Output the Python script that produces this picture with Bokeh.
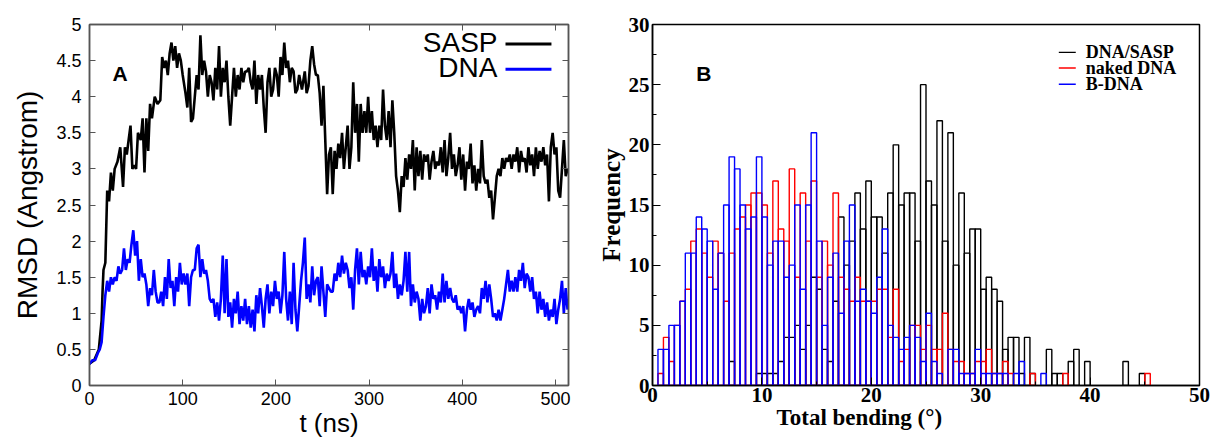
from bokeh.plotting import figure
from bokeh.models import (Range1d, LinearAxis, Label, FixedTicker, NumeralTickFormatter,
                          CustomJSTickFormatter, Title)
from bokeh.layouts import row
from bokeh.embed import file_html
from bokeh.resources import INLINE

# ---------------- Panel A data: RMSD vs time ----------------
sasp_t = ([0, 5, 10, 13, 14, 15, 17, 19, 21, 23, 25, 27, 30, 33, 36, 38, 40, 42, 44, 46, 48, 50,
           52, 55, 57, 59, 61, 63, 65, 67, 70, 73, 76, 78]
          + list(range(80, 101, 2)) + list(range(103, 224, 2)) + [225, 228, 231]
          + list(range(233, 514, 2)))
sasp_rmsd = [0.3, 0.35, 0.5, 0.9, 1.3, 1.6, 1.7, 2.7, 2.55, 2.95, 2.7, 3.0, 3.1, 3.3, 2.75, 3.3, 3.2,
             3.4, 3.6, 3.0, 3.05, 3.0, 3.5, 3.4, 3.7, 2.95, 3.7, 3.25, 3.9, 3.7, 4.0, 3.9, 3.95, 4.55,
             4.4, 4.5, 4.3, 4.6, 4.75, 4.5, 4.7, 4.4, 4.6, 4.5, 4.3,
             4.05, 3.85, 4.4, 3.65, 3.7, 4.0, 4.3, 4.1, 4.85, 4.3, 4.5, 4.35, 4.0, 4.3, 4.2, 3.95,
             4.4, 4.1, 4.7, 4.0, 4.4, 4.2, 4.5, 4.0, 3.6, 4.0, 4.4, 4.0, 4.3, 4.1, 4.4, 4.2, 4.35,
             4.35, 4.4, 4.2, 4.1, 4.5, 3.9, 4.3, 4.1, 4.3, 3.85, 3.5, 4.2, 4.4, 4.0, 4.1, 4.4, 4.3,
             4.0, 4.55, 4.3, 4.75, 4.4, 4.5, 4.2, 4.4, 4.35, 4.05, 4.1,
             4.3, 4.1, 4.35,
             4.05, 4.15, 4.5, 4.7, 4.45, 4.3, 4.3, 4.05, 3.6, 4.15, 3.4, 2.65, 3.2, 3.3, 2.65, 3.25,
             3.0, 3.35, 3.15, 3.5, 3.0, 3.3, 3.6, 3.0, 3.3, 4.2, 3.5, 3.9, 3.1, 3.9, 3.5, 3.8, 3.5,
             4.0, 3.5, 3.8, 3.4, 3.6, 3.3, 3.6, 3.4, 4.1, 3.6, 3.4, 3.8, 3.3, 3.95, 3.5, 2.9, 2.7,
             2.4, 2.9, 2.75, 3.15, 2.85, 3.2, 3.0, 3.4, 2.7, 3.3, 2.9, 3.25, 2.85, 3.2, 3.1, 3.2,
             2.85, 3.1, 3.25, 3.0, 3.1, 3.05, 3.3, 2.95, 3.4, 2.9, 3.15, 3.5, 3.0, 3.2, 2.9, 3.05,
             3.3, 2.85, 3.2, 2.7, 3.1, 3.0, 3.35, 2.8, 3.05, 2.7, 3.0, 2.8, 3.4, 2.9, 2.8, 2.85,
             2.6, 2.7, 2.3, 2.6, 2.9, 3.0, 2.9, 3.15, 3.0, 3.15, 3.1, 3.2, 3.0, 3.2, 3.1, 3.3, 2.95,
             3.25, 3.1, 3.15, 2.95, 3.3, 3.05, 3.2, 2.9, 3.3, 3.0, 3.25, 3.1, 3.3, 3.05, 3.2, 2.55,
             3.3, 3.5, 3.2, 3.3, 2.7, 2.6, 3.0, 3.4, 2.9, 3.0]

dna_t = [0, 3, 6, 9] + list(range(11, 514, 2))
dna_rmsd = [0.3, 0.35, 0.35, 0.45,
            0.5, 0.6, 0.95, 1.25, 1.45, 1.3, 1.5, 1.4, 1.5, 1.45, 1.65, 1.55, 1.6, 1.9, 1.6, 1.75,
            1.7, 1.95, 2.15, 1.8, 2.0, 1.45, 1.75, 1.5, 1.55, 1.4, 1.1, 1.35, 1.25, 1.6, 1.3, 1.15,
            1.15, 1.3, 1.1, 1.5, 1.2, 1.75, 1.35, 1.45, 1.1, 1.5, 1.3, 1.7, 1.4, 1.55, 1.4, 1.55,
            1.1, 1.5, 1.6,
            1.6, 1.9, 1.95, 1.5, 1.75, 1.55, 1.6, 1.45, 1.2,
            1.15, 1.2, 0.95, 1.15, 0.9, 1.2, 1.8, 1.0, 1.75, 0.95, 1.15, 0.8, 1.2, 1.0, 1.3, 0.85,
            1.1, 0.9, 1.2, 0.85, 1.1, 0.8, 1.05, 0.75, 1.25, 1.0, 1.35, 1.1, 0.8, 1.2, 1.4, 1.0,
            1.3, 1.1, 1.45, 1.2, 1.3, 1.0, 1.25, 1.85, 1.2, 0.9, 1.3, 0.85, 1.7, 1.05, 0.75,
            1.1, 1.45, 1.7, 2.05, 1.2, 1.4, 1.15, 1.65, 1.25, 1.45, 1.5, 1.1, 1.65, 1.3, 0.95, 1.4,
            1.35, 1.3, 1.3, 1.55, 1.45, 1.7, 1.5, 1.8, 1.55, 1.7, 1.6, 1.35, 1.5, 1.05, 1.6, 1.9,
            1.4, 1.85, 1.5, 1.6, 1.4, 1.65, 1.5, 1.9, 1.45, 1.65, 1.3, 1.75, 1.5, 1.65, 1.35, 1.55,
            1.45, 1.55, 1.85, 1.35, 1.55, 1.2, 1.4, 1.25, 1.45, 1.85, 1.3, 1.85, 1.1, 1.4, 1.15,
            1.3, 1.2, 0.9, 1.2, 1.0, 1.1, 1.35, 1.0, 1.4, 1.2, 1.25, 1.05, 1.3, 1.15, 1.55, 1.15,
            1.45, 1.2, 1.35, 1.2, 1.15, 1.25, 1.05, 1.1, 1.0, 1.1, 0.75, 1.05, 1.2, 1.05, 1.15,
            0.95, 1.05, 1.1, 1.0, 1.35, 1.2, 1.45, 1.15, 1.4, 1.2, 0.95, 1.0, 0.9, 1.05, 0.9, 1.05,
            1.2, 1.4, 1.6, 1.3, 1.45, 1.3, 1.5, 1.3, 1.6, 1.45, 1.7, 1.35, 1.55, 1.5, 1.3, 1.5,
            1.2, 1.3, 1.0, 1.3, 1.05, 1.2, 0.95, 1.15, 0.9, 1.05, 0.95, 1.2, 0.85, 1.05, 1.2, 1.45,
            1.0, 1.35, 1.05]

# ---------------- Panel B data: bending histograms ----------------
bin_start = 0.0
bin_width = 0.5
dna_sasp_freq = [0] * 14 + [2, 0, 0, 0, 0, 1, 1, 1, 1, 2, 4, 4, 5, 3, 5, 9, 8, 3, 2, 7, 14, 10, 12,
                            16, 13, 17, 14, 14, 11, 16, 20, 15, 16, 16, 12, 25, 17, 15, 22, 12, 21,
                            10, 16, 11, 13, 13, 8, 9, 8, 7, 3, 4, 4, 1, 4, 1, 0, 0, 3, 1, 1, 0, 2,
                            3, 0, 2, 0, 0, 0, 0, 0, 0, 2, 0, 0, 1, 0]
naked_dna_freq = [0, 1, 4, 2, 5, 7, 8, 12, 13, 11, 9, 12, 11, 7, 11, 13, 14, 15, 16, 16, 15, 11, 17,
                  13, 12, 18, 9, 16, 12, 17, 9, 12, 10, 16, 9, 8, 7, 9, 7, 7, 7, 8, 8, 4, 8, 2, 3, 5,
                  5, 3, 5, 3, 3, 6, 3, 2, 2, 1, 1, 2, 2, 3, 1, 1, 2, 1, 0, 0, 0, 1, 0, 0, 0, 0, 0, 1,
                  0, 0, 0, 0, 0, 0, 0, 0, 0, 0, 0, 0, 0, 0, 1]
b_dna_freq = [0, 3, 3, 5, 5, 7, 11, 11, 14, 13, 12, 8, 11, 15, 19, 18, 15, 13, 14, 19, 14, 10, 12, 12,
              9, 10, 15, 8, 15, 21, 12, 5, 9, 11, 6, 12, 15, 7, 8, 7, 6, 9, 13, 5, 4, 3, 4, 5, 4, 2,
              6, 2, 1, 0, 3, 3, 1, 1, 1, 3, 1, 1, 1, 1, 1, 0, 1, 2, 0, 0, 0, 1]

assert len(sasp_t) == len(sasp_rmsd), (len(sasp_t), len(sasp_rmsd))
assert len(dna_t) == len(dna_rmsd), (len(dna_t), len(dna_rmsd))

SANS = "Liberation Sans"
SERIF = "Liberation Serif"
BLUE = "#0000ff"
RED = "#ff0000"
FRAME = "#555555"

# ======================= Panel A =======================
pA = figure(width=594, height=440, x_range=Range1d(0, 514), y_range=Range1d(0, 5),
            output_backend="svg", toolbar_location=None,
            min_border_left=89, min_border_right=26, min_border_top=24, min_border_bottom=54)
pA.xgrid.visible = False
pA.ygrid.visible = False
pA.outline_line_color = FRAME
pA.outline_line_width = 1.5

pA.line(sasp_t, sasp_rmsd, line_color="black", line_width=2.6)
pA.line(dna_t, dna_rmsd, line_color=BLUE, line_width=2.6)

xt_A = [0, 100, 200, 300, 400, 500]
yt_A = [0, 0.5, 1, 1.5, 2, 2.5, 3, 3.5, 4, 4.5, 5]
pA.xaxis.ticker = FixedTicker(ticks=xt_A)
pA.yaxis.ticker = FixedTicker(ticks=yt_A)
pA.yaxis.formatter = NumeralTickFormatter(format="0.[0]")
for ax in (pA.xaxis[0], pA.yaxis[0]):
    ax.axis_line_color = FRAME
    ax.axis_line_width = 1.5
    ax.major_tick_line_color = FRAME
    ax.major_tick_in = 6
    ax.major_tick_out = 0
    ax.minor_tick_line_color = None
    ax.major_label_text_font = SANS
    ax.major_label_text_font_size = "18px"
    ax.major_label_text_color = "black"
    ax.axis_label_text_color = "black"
    ax.axis_label_text_font = SANS
    ax.axis_label_text_font_style = "normal"
pA.yaxis.major_label_standoff = 8
pA.xaxis.major_label_standoff = 6
pA.yaxis.axis_label = "RMSD (Angstrom)"
pA.yaxis.axis_label_text_font_size = "28px"
pA.yaxis.axis_label_standoff = 10
pA.xaxis.axis_label = "t (ns)"
pA.xaxis.axis_label_text_font_size = "26px"
pA.xaxis.axis_label_standoff = 0

blank = CustomJSTickFormatter(code="return ''")
rA = LinearAxis(ticker=FixedTicker(ticks=yt_A), formatter=blank, major_tick_in=6, major_tick_out=0,
                minor_tick_line_color=None, axis_line_color=FRAME, axis_line_width=1.5,
                major_tick_line_color=FRAME, major_label_standoff=0)
pA.add_layout(rA, "right")
tA = LinearAxis(ticker=FixedTicker(ticks=xt_A), formatter=blank, major_tick_in=6, major_tick_out=0,
                minor_tick_line_color=None, axis_line_color=FRAME, axis_line_width=1.5,
                major_tick_line_color=FRAME, major_label_standoff=0)
pA.add_layout(tA, "above")

pA.add_layout(Label(x=24.7, y=4.32, text="A", text_align="left", text_baseline="middle",
                    text_font=SANS, text_font_size="21px", text_font_style="bold",
                    text_color="black"))
# legend (text then line sample, as in the original)
pA.add_layout(Label(x=437.8, y=4.75, text="SASP", text_align="right", text_baseline="middle",
                    text_font=SANS, text_font_size="28px", text_color="black"))
pA.add_layout(Label(x=437.8, y=4.41, text="DNA", text_align="right", text_baseline="middle",
                    text_font=SANS, text_font_size="28px", text_color="black"))
pA.line([446.4, 495.7], [4.73, 4.73], line_color="black", line_width=3)
pA.line([446.4, 495.7], [4.38, 4.38], line_color=BLUE, line_width=3)

# ======================= Panel B =======================
pB = figure(width=618, height=440, x_range=Range1d(0, 50), y_range=Range1d(0, 30),
            output_backend="svg", toolbar_location=None,
            min_border_left=57, min_border_right=13, min_border_top=24, min_border_bottom=48)
pB.xgrid.visible = False
pB.ygrid.visible = False
pB.outline_line_color = "black"
pB.outline_line_width = 1.5


def bars(counts):
    idx = [i for i, c in enumerate(counts) if c > 0]
    left = [bin_start + i * bin_width for i in idx]
    right = [bin_start + (i + 1) * bin_width for i in idx]
    top = [counts[i] for i in idx]
    return left, right, top


for counts, col in ((dna_sasp_freq, "black"), (naked_dna_freq, RED), (b_dna_freq, BLUE)):
    l, r, t = bars(counts)
    pB.quad(left=l, right=r, bottom=0, top=t, fill_color=None, line_color=col, line_width=1.4)

pB.xaxis.ticker = FixedTicker(ticks=[0, 10, 20, 30, 40, 50], minor_ticks=[5, 15, 25, 35, 45])
pB.yaxis.ticker = FixedTicker(ticks=[0, 5, 10, 15, 20, 25, 30],
                              minor_ticks=[2.5, 7.5, 12.5, 17.5, 22.5, 27.5])
for ax in (pB.xaxis[0], pB.yaxis[0]):
    ax.axis_line_color = "black"
    ax.axis_line_width = 1.5
    ax.major_tick_line_color = "black"
    ax.minor_tick_line_color = "black"
    ax.major_tick_in = 8
    ax.major_tick_out = 0
    ax.minor_tick_in = 4
    ax.minor_tick_out = 0
    ax.major_label_text_font = SERIF
    ax.major_label_text_font_style = "bold"
    ax.major_label_text_font_size = "21px"
    ax.major_label_text_color = "black"
pB.yaxis.major_label_standoff = 3
pB.xaxis.major_label_standoff = 2
pB.yaxis.axis_label = "Frequency"
pB.yaxis.axis_label_text_font = SERIF
pB.yaxis.axis_label_text_font_style = "bold"
pB.yaxis.axis_label_text_font_size = "25px"
pB.yaxis.axis_label_text_color = "black"
pB.yaxis.axis_label_standoff = 1

xtitle = Title(text="Total bending (°)", align="left", offset=124, standoff=0,
               vertical_align="top", text_font=SERIF, text_font_style="bold",
               text_font_size="23px", text_color="black")
pB.add_layout(xtitle, "below")

pB.add_layout(Label(x=4.01, y=25.95, text="B", text_align="left", text_baseline="middle",
                    text_font=SANS, text_font_size="21px", text_font_style="bold",
                    text_color="black"))
# legend (line sample then text)
leg_names = ["DNA/SASP", "naked DNA", "B-DNA"]
leg_cols = ["black", RED, BLUE]
leg_y = [27.68, 26.38, 25.04]
for name, col, yy in zip(leg_names, leg_cols, leg_y):
    pB.line([37.14, 38.69], [yy, yy], line_color=col, line_width=1.4)
    pB.add_layout(Label(x=39.6, y=yy, text=name, text_align="left", text_baseline="middle",
                        text_font=SERIF, text_font_style="bold", text_font_size="18px",
                        text_color="black"))

layout = row(pA, pB)
open("out.html", "w").write(file_html(layout, INLINE))
